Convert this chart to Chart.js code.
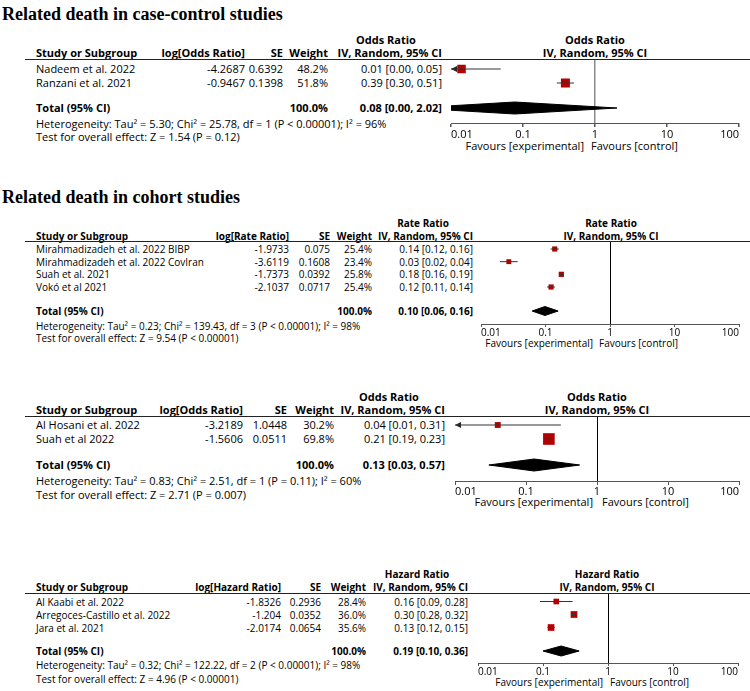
<!DOCTYPE html>
<html>
<head>
<meta charset="utf-8">
<script src="https://cdn.jsdelivr.net/npm/chart.js@4.4.1/dist/chart.umd.min.js"></script>
<style>
  html, body { margin: 0; padding: 0; background: #fff; }
  #page { position: relative; width: 750px; height: 691px; overflow: hidden;
          font-family: "Open Sans", sans-serif; color: #000; }
  .t { position: absolute; white-space: nowrap; }
  .b { font-weight: bold; }
  .title { font-family: "Liberation Serif", "Times New Roman", serif; font-weight: bold; }
  .rule { position: absolute; height: 0; border-top: 1.5px solid #222; }
  canvas { position: absolute; }
</style>
</head>
<body>
<div id="page"></div>
<script>
const tickValues = [0.01, 0.1, 1, 10, 100];
const tickLabels = ['0.01', '0.1', '1', '10', '100'];

// case-control, odds ratio
const caseStudies = ['Nadeem et al. 2022', 'Ranzani et al. 2021'];
const caseLog = ['-4.2687', '-0.9467'];
const caseSE = ['0.6392', '0.1398'];
const caseWeight = [48.2, 51.8];
const caseEst = [0.014, 0.388];
const caseLow = [0.004, 0.295];
const caseHigh = [0.049, 0.51];
const caseLabels = ['0.01 [0.00, 0.05]', '0.39 [0.30, 0.51]'];
const caseTotal = [0.077, 0.003, 2.02];
const caseTotalLabel = '0.08 [0.00, 2.02]';
const caseHet = 'Heterogeneity: Tau² = 5.30; Chi² = 25.78, df = 1 (P < 0.00001); I² = 96%';
const caseTest = 'Test for overall effect: Z = 1.54 (P = 0.12)';

// cohort, rate ratio
const rateStudies = ['Mirahmadizadeh et al. 2022 BIBP', 'Mirahmadizadeh et al. 2022 CovIran', 'Suah et al. 2021', 'Vokó et al 2021'];
const rateLog = ['-1.9733', '-3.6119', '-1.7373', '-2.1037'];
const rateSE = ['0.075', '0.1608', '0.0392', '0.0717'];
const rateWeight = [25.4, 23.4, 25.8, 25.4];
const rateEst = [0.139, 0.027, 0.176, 0.122];
const rateLow = [0.12, 0.0197, 0.163, 0.106];
const rateHigh = [0.161, 0.037, 0.19, 0.14];
const rateLabels = ['0.14 [0.12, 0.16]', '0.03 [0.02, 0.04]', '0.18 [0.16, 0.19]', '0.12 [0.11, 0.14]'];
const rateTotal = [0.098, 0.062, 0.157];
const rateTotalLabel = '0.10 [0.06, 0.16]';
const rateHet = 'Heterogeneity: Tau² = 0.23; Chi² = 139.43, df = 3 (P < 0.00001); I² = 98%';
const rateTest = 'Test for overall effect: Z = 9.54 (P < 0.00001)';

// cohort, odds ratio
const oddsStudies = ['Al Hosani et al. 2022', 'Suah et al 2022'];
const oddsLog = ['-3.2189', '-1.5606'];
const oddsSE = ['1.0448', '0.0511'];
const oddsWeight = [30.2, 69.8];
const oddsEst = [0.04, 0.21];
const oddsLow = [0.005, 0.19];
const oddsHigh = [0.31, 0.232];
const oddsLabels = ['0.04 [0.01, 0.31]', '0.21 [0.19, 0.23]'];
const oddsTotal = [0.13, 0.03, 0.57];
const oddsTotalLabel = '0.13 [0.03, 0.57]';
const oddsHet = 'Heterogeneity: Tau² = 0.83; Chi² = 2.51, df = 1 (P = 0.11); I² = 60%';
const oddsTest = 'Test for overall effect: Z = 2.71 (P = 0.007)';

// cohort, hazard ratio
const hazStudies = ['Al Kaabi et al. 2022', 'Arregoces-Castillo et al. 2022', 'Jara et al. 2021'];
const hazLog = ['-1.8326', '-1.204', '-2.0174'];
const hazSE = ['0.2936', '0.0352', '0.0654'];
const hazWeight = [28.4, 36.0, 35.6];
const hazEst = [0.16, 0.3, 0.133];
const hazLow = [0.09, 0.28, 0.117];
const hazHigh = [0.285, 0.321, 0.151];
const hazLabels = ['0.16 [0.09, 0.28]', '0.30 [0.28, 0.32]', '0.13 [0.12, 0.15]'];
const hazTotal = [0.19, 0.1, 0.36];
const hazTotalLabel = '0.19 [0.10, 0.36]';
const hazHet = 'Heterogeneity: Tau² = 0.32; Chi² = 122.22, df = 2 (P < 0.00001); I² = 98%';
const hazTest = 'Test for overall effect: Z = 4.96 (P < 0.00001)';

const RED = '#b40000';
const AXIS_H = 22;
const CANVAS_LEFT = 440;
const page = document.getElementById('page');
Chart.defaults.font.family = '"Open Sans", sans-serif';

function put(text, x, y, o) {
  o = o || {};
  const d = document.createElement('div');
  d.className = 't' + (o.bold ? ' b' : '') + (o.cls ? ' ' + o.cls : '');
  d.textContent = text;
  const lh = o.lh || 14;
  d.style.fontSize = (o.size || 10) + 'px';
  d.style.lineHeight = lh + 'px';
  d.style.top = (y - lh / 2) + 'px';
  const align = o.align || 'left';
  if (align === 'left') {
    d.style.left = x + 'px';
  } else if (align === 'right') {
    d.style.right = (750 - x) + 'px';
  } else {
    d.style.left = x + 'px';
    d.style.transform = 'translateX(-50%)';
  }
  page.appendChild(d);
}

// arrow head for CIs running off the left end of the axis (tip at the point)
const arrowImg = document.createElement('canvas');
arrowImg.width = 14; arrowImg.height = 8;
(function () {
  const c = arrowImg.getContext('2d');
  c.fillStyle = '#222';
  c.beginPath(); c.moveTo(7, 4); c.lineTo(13, 1); c.lineTo(13, 7); c.closePath(); c.fill();
})();

function panel(L, D) {
  const f = { size: L.font };
  const fb = { size: L.font, bold: true };
  const R = o => Object.assign({ align: 'right' }, o);
  const C = o => Object.assign({ align: 'center' }, o);
  if (L.title) put(L.title, 2, L.titleY, { cls: 'title', size: 18, lh: 22 });

  put(L.measure, L.effHdr, L.hdr1Y, C(fb));
  put(L.measure, L.plotHdr, L.hdr1Y, C(fb));
  put('Study or Subgroup', 36, L.hdr2Y, fb);
  put(L.logLabel, L.cLog, L.hdr2Y, R(fb));
  put('SE', L.cSE, L.hdr2Y, R(fb));
  put('Weight', L.cW, L.hdr2Y, R(fb));
  put('IV, Random, 95% CI', L.cCI, L.hdr2Y, R(fb));
  put('IV, Random, 95% CI', L.plotHdr, L.hdr2Y, C(fb));

  const r = document.createElement('div');
  r.className = 'rule';
  r.style.left = '25px'; r.style.width = '725px'; r.style.top = (L.lineY - 0.75) + 'px';
  page.appendChild(r);

  D.studies.forEach((s, i) => {
    const y = L.row0 + i * L.rowPx;
    put(s, 36, y, f);
    put(D.log[i], L.cLog, y, R(f));
    put(D.se[i], L.cSE, y, R(f));
    put(D.weight[i].toFixed(1) + '%', L.cW, y, R(f));
    put(D.labels[i], L.cCI, y, R(f));
  });
  put('Total (95% CI)', 36, L.totalY, fb);
  put('100.0%', L.cW, L.totalY, R(fb));
  put(D.totalLabel, L.cCI, L.totalY, R(fb));
  put(D.het, 36, L.hetY, f);
  put(D.test, 36, L.testY, f);
  put('Favours [experimental]', L.favExp, L.favY, R(f));
  put('Favours [control]', L.favCtl, L.favY, f);

  // forest plot
  const cv = document.createElement('canvas');
  const w = 750 - CANVAS_LEFT, h = L.axisY - L.lineY + AXIS_H;
  cv.width = w; cv.height = h;
  cv.style.left = CANVAS_LEFT + 'px'; cv.style.top = L.lineY + 'px';
  cv.style.width = w + 'px'; cv.style.height = h + 'px';
  page.appendChild(cv);

  const lo = tickValues[0], hi = tickValues[tickValues.length - 1];
  const yMin = -(L.row0 - L.lineY) / L.rowPx;
  const yMax = yMin + (L.axisY - L.lineY) / L.rowPx;
  const tIdx = (L.totalY - L.row0) / L.rowPx;
  const a = L.diamondH / 2 / L.rowPx;

  const datasets = [];
  D.est.forEach((v, i) => {
    datasets.push({
      type: 'line',
      data: [{ x: Math.max(D.low[i], lo), y: i }, { x: Math.min(D.high[i], hi), y: i }],
      borderColor: '#333', borderWidth: 1, pointRadius: 0
    });
  });
  const arrows = [];
  D.low.forEach((v, i) => { if (v < lo) arrows.push({ x: lo, y: i }); });
  datasets.push({ type: 'scatter', data: arrows, pointStyle: arrowImg, clip: false });
  datasets.push({
    type: 'scatter',
    data: D.est.map((v, i) => ({ x: v, y: i })),
    pointStyle: 'rect',
    pointRadius: D.weight.map(wt => (1.5 + 0.145 * wt) / Math.SQRT2),
    backgroundColor: RED, borderWidth: 0
  });
  const [te, tl, th] = D.total;
  datasets.push({
    type: 'line',
    data: [{ x: tl, y: tIdx }, { x: te, y: tIdx - a }, { x: th, y: tIdx }, { x: te, y: tIdx + a }, { x: tl, y: tIdx }],
    fill: 'shape', backgroundColor: '#000', borderColor: '#000', borderWidth: 1, pointRadius: 0
  });

  new Chart(cv, {
    type: 'scatter',
    data: { datasets },
    options: {
      responsive: false,
      animation: false,
      layout: { padding: { left: L.x0 - CANVAS_LEFT, right: 750 - L.x1, top: 0, bottom: 0 }, autoPadding: false },
      plugins: { legend: { display: false }, tooltip: { enabled: false } },
      scales: {
        x: {
          type: 'logarithmic', min: lo, max: hi, position: 'bottom',
          afterBuildTicks: s => { s.ticks = tickValues.map(v => ({ value: v })); },
          afterFit: s => { s.height = AXIS_H; },
          ticks: {
            autoSkip: false, maxRotation: 0, align: 'inner', padding: L.tickPad, color: '#000',
            font: { size: L.tickFont },
            callback: (v, i) => tickLabels[i]
          },
          grid: {
            drawOnChartArea: true,
            color: c => (c.tick && c.tick.value === 1) ? L.refColor : 'rgba(0,0,0,0)',
            lineWidth: L.refWidth,
            tickColor: '#555', tickLength: L.tickLen
          },
          border: { display: true, color: '#555', width: 1 }
        },
        y: { type: 'linear', display: false, reverse: true, min: yMin, max: yMax }
      }
    }
  });
}

panel({
  title: 'Related death in case-control studies', titleY: 14,
  measure: 'Odds Ratio', logLabel: 'log[Odds Ratio]', font: 11, tickFont: 11, tickLen: 4, tickPad: 1,
  hdr1Y: 40, hdr2Y: 53, lineY: 60, row0: 69, rowPx: 14, totalY: 108, hetY: 124, testY: 137,
  axisY: 123, favY: 146, cLog: 245, cSE: 283, cW: 328, cCI: 442, effHdr: 386, plotHdr: 595,
  x0: 451, x1: 739, favExp: 584, favCtl: 591, diamondH: 12, refColor: '#8a8a8a', refWidth: 1.5
}, {
  studies: caseStudies, log: caseLog, se: caseSE, weight: caseWeight, est: caseEst, low: caseLow,
  high: caseHigh, labels: caseLabels, total: caseTotal, totalLabel: caseTotalLabel, het: caseHet, test: caseTest
});

panel({
  title: 'Related death in cohort studies', titleY: 197,
  measure: 'Rate Ratio', logLabel: 'log[Rate Ratio]', font: 10, tickFont: 10, tickLen: 3, tickPad: 0,
  hdr1Y: 223, hdr2Y: 236, lineY: 242, row0: 249, rowPx: 12.67, totalY: 311, hetY: 326, testY: 338,
  axisY: 324, favY: 343, cLog: 289, cSE: 330, cW: 372, cCI: 473, effHdr: 423, plotHdr: 611,
  x0: 481, x1: 739, favExp: 593, favCtl: 599, diamondH: 9, refColor: '#000', refWidth: 1
}, {
  studies: rateStudies, log: rateLog, se: rateSE, weight: rateWeight, est: rateEst, low: rateLow,
  high: rateHigh, labels: rateLabels, total: rateTotal, totalLabel: rateTotalLabel, het: rateHet, test: rateTest
});

panel({
  measure: 'Odds Ratio', logLabel: 'log[Odds Ratio]', font: 11, tickFont: 11, tickLen: 4, tickPad: 0,
  hdr1Y: 397, hdr2Y: 410, lineY: 417, row0: 425, rowPx: 14, totalY: 465, hetY: 481, testY: 495,
  axisY: 481, favY: 502, cLog: 243, cSE: 287, cW: 334, cCI: 445, effHdr: 389, plotHdr: 597,
  x0: 455, x1: 739, favExp: 593, favCtl: 602, diamondH: 12, refColor: '#000', refWidth: 1
}, {
  studies: oddsStudies, log: oddsLog, se: oddsSE, weight: oddsWeight, est: oddsEst, low: oddsLow,
  high: oddsHigh, labels: oddsLabels, total: oddsTotal, totalLabel: oddsTotalLabel, het: oddsHet, test: oddsTest
});

panel({
  measure: 'Hazard Ratio', logLabel: 'log[Hazard Ratio]', font: 10, tickFont: 10, tickLen: 3, tickPad: 0,
  hdr1Y: 574, hdr2Y: 587, lineY: 594, row0: 601.5, rowPx: 13, totalY: 651, hetY: 665, testY: 679,
  axisY: 663, favY: 682, cLog: 281, cSE: 321, cW: 366, cCI: 468, effHdr: 417, plotHdr: 607,
  x0: 478, x1: 738, favExp: 603, favCtl: 610, diamondH: 10, refColor: '#000', refWidth: 1
}, {
  studies: hazStudies, log: hazLog, se: hazSE, weight: hazWeight, est: hazEst, low: hazLow,
  high: hazHigh, labels: hazLabels, total: hazTotal, totalLabel: hazTotalLabel, het: hazHet, test: hazTest
});
</script>
</body>
</html>
